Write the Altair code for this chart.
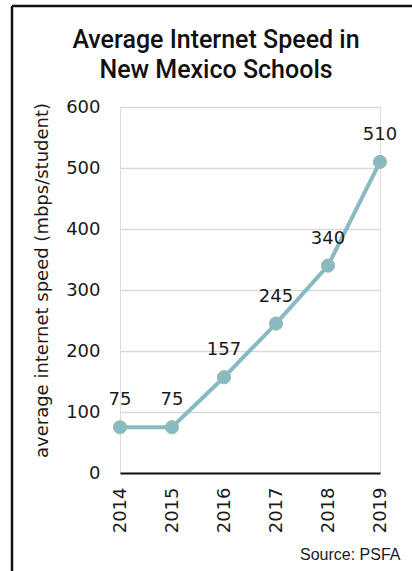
import altair as alt
import pandas as pd

years = ["2014", "2015", "2016", "2017", "2018", "2019"]
speeds = [75, 75, 157, 245, 340, 510]
y_ticks = [0, 100, 200, 300, 400, 500, 600]
title_lines = ["Average Internet Speed in", "New Mexico Schools"]
y_title = "average internet speed (mbps/student)"
source_text = "Source: PSFA"

df = pd.DataFrame({"year": years, "speed": speeds})
frame_df = pd.DataFrame({"k": [0]})

LINE_COLOR = "#88BBC1"
LABEL_FONT = "DejaVu Sans"

x_enc = alt.X(
    "year:O",
    scale=alt.Scale(type="point", padding=0),
    axis=alt.Axis(
        title=source_text,
        labelAngle=270,
        labelFont=LABEL_FONT,
        labelFontSize=18,
        labelColor="#1a1a1a",
        labelPadding=14,
        ticks=False,
        domain=True,
        domainColor="#111111",
        domainWidth=2,
        grid=False,
        titleX=280,
        titleY=86,
        titleAlign="right",
        titleBaseline="alphabetic",
        titleFont="Liberation Sans",
        titleFontSize=16,
        titleFontWeight="normal",
        titleColor="#1a1a1a",
    ),
)
y_enc = alt.Y(
    "speed:Q",
    scale=alt.Scale(domain=[0, 600], nice=False),
    axis=alt.Axis(
        title=y_title,
        values=y_ticks,
        labelFont=LABEL_FONT,
        labelFontSize=18,
        labelColor="#1a1a1a",
        labelPadding=20,
        ticks=False,
        domain=False,
        grid=True,
        gridColor="#d9d9d9",
        gridWidth=1.5,
        titleFont=LABEL_FONT,
        titleFontSize=18,
        titleFontWeight="normal",
        titleColor="#1a1a1a",
        titleAngle=270,
        titleX=-78,
        titleY=173,
        titleAlign="center",
        titleBaseline="middle",
    ),
)

line = alt.Chart(df).mark_line(color=LINE_COLOR, strokeWidth=4).encode(x=x_enc, y=y_enc)
points = alt.Chart(df).mark_point(
    filled=True, size=175, fill=LINE_COLOR, stroke="#a3b8aa", strokeWidth=1, opacity=1
).encode(x="year:O", y="speed:Q")
labels = alt.Chart(df).mark_text(
    dy=-22, baseline="alphabetic", align="center", font=LABEL_FONT, fontSize=18, color="#1a1a1a"
).encode(x="year:O", y="speed:Q", text="speed:Q")

border_left = alt.Chart(frame_df).mark_rule(color="#111111", strokeWidth=2.5).encode(
    x=alt.value(-108), y=alt.value(-101), y2=alt.value(470)
)
border_top = alt.Chart(frame_df).mark_rule(color="#111111", strokeWidth=2.5).encode(
    x=alt.value(-108), x2=alt.value(300), y=alt.value(-101)
)

chart = (
    alt.layer(line, points, labels, border_left, border_top)
    .properties(
        width=260,
        height=366,
        autosize=alt.AutoSizeParams(type="none"),
        padding={"left": 120, "top": 107, "right": 32, "bottom": 98},
        title=alt.TitleParams(
            text=title_lines,
            anchor="middle",
            frame="group",
            dx=-34,
            font="Roboto",
            fontSize=25,
            fontWeight=500,
            color="#111111",
            lineHeight=30,
            offset=-78,
        ),
    )
    .configure_view(stroke=None)
    .configure(background="white")
)

chart.save("out.html", embed_options={"renderer": "svg", "actions": False})
